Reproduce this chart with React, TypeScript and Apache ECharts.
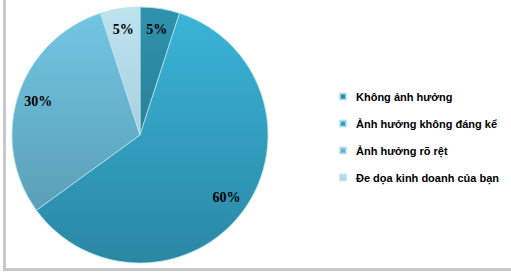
import React, { useEffect, useRef } from "react";
import * as echarts from "echarts";

const categories = [
  "Không ảnh hưởng",
  "Ảnh hưởng không đáng kể",
  "Ảnh hưởng rõ rệt",
  "Đe dọa kinh doanh của bạn",
];
const values = [5, 60, 30, 5];
const topColors = ["#2f93ae", "#3ab4d8", "#72c6e3", "#bfe2ef"];
const bottomColors = ["#2a7f98", "#2a87a3", "#5b9fb7", "#a9d0de"];

export default function App() {
  const ref = useRef<HTMLDivElement>(null);
  useEffect(() => {
    const chart = echarts.init(ref.current!, undefined, { renderer: "svg" });
    const grad = (i: number) =>
      new echarts.graphic.LinearGradient(0, 0, 0, 1, [
        { offset: 0, color: topColors[i] },
        { offset: 1, color: bottomColors[i] },
      ]);
    const data = categories.map((name, i) => ({
      name,
      value: values[i],
      itemStyle: { color: grad(i) },
    }));
    chart.setOption({
      animation: false,
      backgroundColor: "#ffffff",
      legend: {
        orient: "vertical",
        left: 334,
        top: 86,
        itemWidth: 6,
        itemHeight: 6,
        itemGap: 16,
        icon: "rect",
        selectedMode: false,
        textStyle: {
          fontFamily: "Liberation Sans, Arial, sans-serif",
          fontWeight: "bold",
          fontSize: 11,
          color: "#000",
          padding: [0, 0, 0, 5],
        },
        data: categories,
      },
      graphic: [
        { type: "rect", shape: { x: 3, y: 0, width: 3, height: 271 }, style: { fill: "#c8c8c8" } },
        { type: "rect", shape: { x: 3, y: 268, width: 508, height: 3 }, style: { fill: "#c8c8c8" } },
      ],
      series: [
        {
          type: "pie",
          center: [140, 135],
          radius: [0, 128],
          startAngle: 90,
          clockwise: true,
          silent: true,
          label: { show: false },
          labelLine: { show: false },
          itemStyle: { borderColor: "rgba(180,225,240,0.8)", borderWidth: 1 },
          data,
        },
        {
          type: "pie",
          center: [140, 135],
          radius: [80, 128],
          startAngle: 90,
          clockwise: true,
          silent: true,
          legendHoverLink: false,
          itemStyle: { color: "transparent" },
          label: {
            show: true,
            position: "inside",
            formatter: "{c}%",
            fontFamily: "Liberation Serif, Times New Roman, serif",
            fontWeight: "bold",
            fontSize: 14,
            color: "#000",
          },
          labelLine: { show: false },
          data: categories.map((name, i) => ({ name: name + " ", value: values[i] })),
        },
      ],
    });
    return () => chart.dispose();
  }, []);
  return (
    <div
      ref={ref}
      style={{ position: "fixed", left: 0, top: 0, width: 511, height: 273 }}
    />
  );
}
